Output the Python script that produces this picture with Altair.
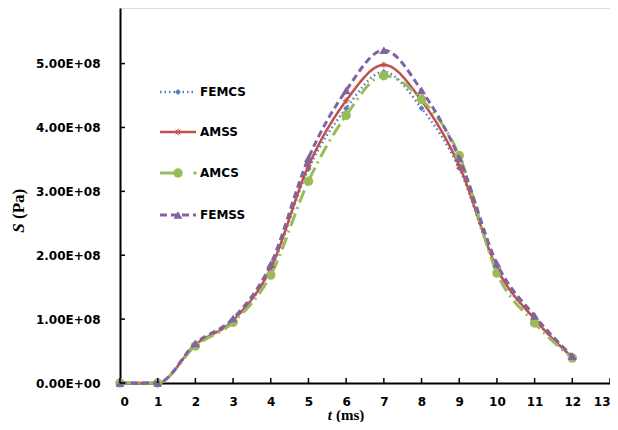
import altair as alt
import pandas as pd

# ---- data (values in units of 1e8 Pa) ----
t_ms = list(range(13))
femcs = [0, 0, 0.60, 0.98, 1.78, 3.35, 4.30, 4.87, 4.30, 3.36, 1.78, 1.00, 0.40]
amss = [0, 0, 0.60, 0.98, 1.80, 3.40, 4.42, 4.98, 4.42, 3.40, 1.80, 1.00, 0.40]
amcs = [0, 0, 0.58, 0.95, 1.69, 3.16, 4.19, 4.81, 4.44, 3.56, 1.72, 0.94, 0.39]
femss = [0, 0, 0.62, 1.01, 1.86, 3.52, 4.58, 5.21, 4.58, 3.52, 1.87, 1.05, 0.42]
unit = 1e8

series_names = ["FEMCS", "AMSS", "AMCS", "FEMSS"]
series_values = [femcs, amss, amcs, femss]
x_ticks = list(range(14))
y_ticks = [0, 1e8, 2e8, 3e8, 4e8, 5e8]

W, H = 490, 375
ASTERISK = "M-1,0L1,0M0,-1L0,1M-0.7,-0.7L0.7,0.7M-0.7,0.7L0.7,-0.7"
LBL_FONT = "DejaVu Sans"

styles = {
    "FEMCS": dict(color="#4F81BD", dash=[1.5, 3], width=2.5, shape="diamond", size=35, filled=True),
    "AMSS": dict(color="#C0504D", dash=[1, 0], width=2.5, shape=ASTERISK, size=45, filled=False),
    "AMCS": dict(color="#9BBB59", dash=[13, 5, 2, 5], width=3, shape="circle", size=90, filled=True),
    "FEMSS": dict(color="#8064A2", dash=[7, 4], width=3, shape="triangle-up", size=80, filled=True),
}

xs = alt.Scale(domain=[0, 13], nice=False, zero=False)
ys = alt.Scale(domain=[0, 5.87e8], nice=False)
xa = alt.Axis(values=x_ticks, format="d", title=None, grid=False, ticks=False, tickSize=0,
              labelOverlap=False, labelPadding=13, labelFont=LBL_FONT, labelFontWeight="bold",
              labelFontSize=12, labelColor="black", domainColor="black", domainWidth=2)
ya = alt.Axis(values=y_ticks, title=None, grid=False, ticks=False, tickSize=0,
              labelOverlap=False,
              labelExpr="format(datum.value/1e8, '.2f') + (datum.value == 0 ? 'E+00' : 'E+08')",
              labelPadding=20, labelFont=LBL_FONT, labelFontWeight="bold",
              labelFontSize=12, labelColor="black", domainColor="black", domainWidth=2)
X = alt.X("t:Q", scale=xs, axis=xa)
Y = alt.Y("S:Q", scale=ys, axis=ya)

layers = []
for name, vals in zip(series_names, series_values):
    st = styles[name]
    df = pd.DataFrame({"t": t_ms, "S": [v * unit for v in vals], "series": name})
    base = alt.Chart(df)
    line = base.mark_line(
        color=st["color"], strokeDash=st["dash"], strokeWidth=st["width"],
        interpolate="monotone", clip=False
    ).encode(x=X, y=Y)
    if st["filled"]:
        pts = base.mark_point(shape=st["shape"], size=st["size"], filled=True,
                              color=st["color"], opacity=1)
    else:
        pts = base.mark_point(shape=st["shape"], size=st["size"], filled=False,
                              stroke=st["color"], strokeWidth=1, opacity=1)
    pts = pts.encode(x=X, y=Y)
    layers += [line, pts]

# inward tick marks
xt = alt.Chart(pd.DataFrame({"t": x_ticks})).mark_rule(color="black", strokeWidth=1.5).encode(
    x=X, y=alt.value(H), y2=alt.value(H - 5))
yt = alt.Chart(pd.DataFrame({"S": y_ticks})).mark_rule(color="black", strokeWidth=1.5).encode(
    y=Y, x=alt.value(0), x2=alt.value(5))
layers += [xt, yt]

# legend (inside plot, upper left)
leg_y = [84, 124, 165, 207]
one = pd.DataFrame({"k": [0]})
for name, ly in zip(series_names, leg_y):
    st = styles[name]
    if name == "AMCS":
        layers.append(alt.Chart(one).mark_rule(color=st["color"], strokeWidth=st["width"]).encode(
            x=alt.value(40), x2=alt.value(58), y=alt.value(ly)))
        layers.append(alt.Chart(one).mark_point(shape="circle", filled=True, size=12,
                                                color=st["color"], opacity=1).encode(
            x=alt.value(75), y=alt.value(ly)))
    else:
        layers.append(alt.Chart(one).mark_rule(color=st["color"], strokeWidth=st["width"],
                                               strokeDash=st["dash"]).encode(
            x=alt.value(40), x2=alt.value(76), y=alt.value(ly)))
    if st["filled"]:
        mk = alt.Chart(one).mark_point(shape=st["shape"], size=st["size"], filled=True,
                                       color=st["color"], opacity=1)
    else:
        mk = alt.Chart(one).mark_point(shape=st["shape"], size=st["size"], filled=False,
                                       stroke=st["color"], strokeWidth=1, opacity=1)
    layers.append(mk.encode(x=alt.value(58), y=alt.value(ly)))
    layers.append(alt.Chart(one).mark_text(
        text=name, align="left", baseline="middle", font=LBL_FONT,
        fontWeight="bold", fontSize=12, color="black").encode(
        x=alt.value(80), y=alt.value(ly)))

# axis titles with mixed styles
TY = 407
layers.append(alt.Chart(one).mark_text(
    text="t", align="right", baseline="middle", font="Liberation Serif",
    fontStyle="italic", fontWeight="bold", fontSize=15, color="black").encode(
    x=alt.value(212), y=alt.value(TY)))
layers.append(alt.Chart(one).mark_text(
    text="(ms)", align="left", baseline="middle", font="Liberation Serif",
    fontWeight="bold", fontSize=15, color="black").encode(
    x=alt.value(216), y=alt.value(TY)))
layers.append(alt.Chart(one).mark_text(
    text="S", align="center", baseline="middle", angle=270, font="Liberation Serif",
    fontStyle="italic", fontWeight="bold", fontSize=17, color="black").encode(
    x=alt.value(-101), y=alt.value(220)))
layers.append(alt.Chart(one).mark_text(
    text="(Pa)", align="left", baseline="middle", angle=270, font="Liberation Serif",
    fontWeight="bold", fontSize=17, color="black").encode(
    x=alt.value(-101), y=alt.value(211)))

chart = alt.layer(*layers).properties(
    width=W, height=H,
    autosize=alt.AutoSizeParams(type="none"),
    padding={"left": 112, "top": 0, "right": 0, "bottom": 39},
).configure_view(stroke=None).configure(background="white")

chart.save("out.html", embed_options={"renderer": "svg", "actions": False})
